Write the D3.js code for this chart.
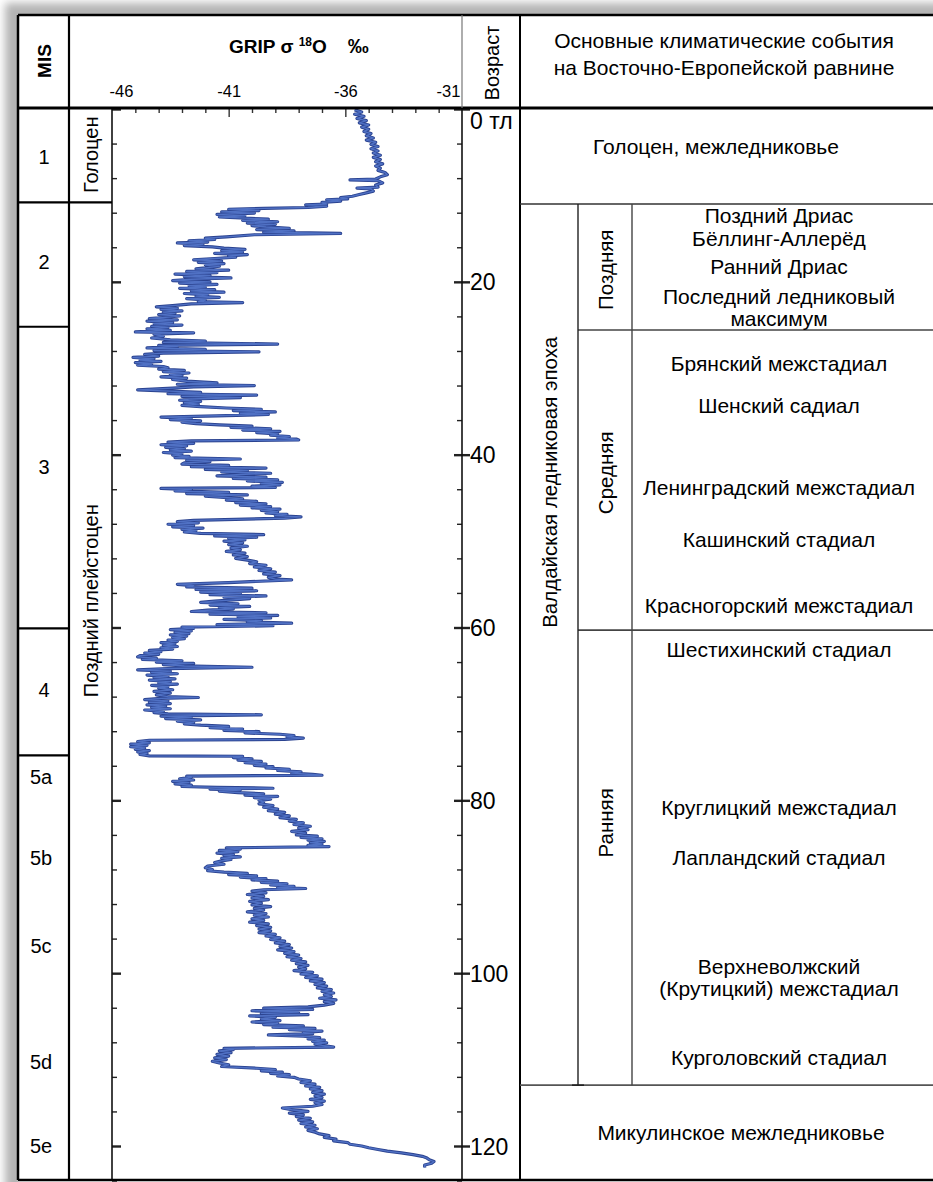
<!DOCTYPE html>
<html>
<head>
<meta charset="utf-8">
<script src="https://cdn.jsdelivr.net/npm/d3@7"></script>
<style>
  body { margin: 0; background: #fff; }
  svg { display: block; }
  text { font-family: "Liberation Sans", Arial, sans-serif; fill: #000; }
</style>
</head>
<body>
<svg id="chart" width="933" height="1182"></svg>
<script>
// GRIP δ18O record, [age ka, δ18O ‰]
const gripRecord = [
  [0.1,-35.6],[0.35,-35.3],[0.6,-35.6],[0.85,-35.2],[1.1,-35.5],[1.35,-35.1],[1.6,-35.4],[1.85,-35.0],[2.1,-35.3],[2.35,-35.0],
  [2.6,-35.2],[2.85,-34.9],[3.1,-35.1],[3.35,-34.8],[3.6,-35.1],[3.85,-34.7],[4.1,-34.9],[4.35,-34.6],[4.6,-34.9],[4.85,-34.6],
  [5.1,-34.8],[5.35,-34.5],[5.6,-34.8],[5.85,-34.5],[6.1,-34.7],[6.35,-34.4],[6.6,-34.7],[6.85,-34.5],[7.1,-34.6],[7.35,-34.3],
  [7.6,-34.2],[7.85,-34.5],[8.1,-34.7],[8.2,-35.8],[8.3,-34.6],[8.55,-34.4],[8.8,-34.7],[9.05,-34.6],[9.15,-35.5],[9.25,-34.9],
  [9.5,-34.8],[9.7,-35.1],[9.9,-35.4],[10.1,-35.7],[10.25,-36.2],[10.4,-35.9],[10.5,-36.8],[10.65,-36.2],[10.8,-37.0],[11.0,-36.8],
  [11.1,-37.7],[11.25,-36.8],[11.4,-37.6],[11.5,-39.5],
  [11.6,-41.0],[11.75,-39.7],[11.9,-41.3],[12.05,-39.9],[12.2,-41.5],[12.35,-40.3],[12.5,-41.4],[12.6,-40.5],
  [12.75,-39.3],[12.9,-40.4],[13.05,-38.9],[13.2,-40.2],[13.35,-39.0],[13.5,-40.0],[13.65,-39.4],
  [13.8,-38.4],[13.95,-39.8],[14.1,-38.2],[14.25,-39.5],[14.4,-36.2],[14.55,-39.9],[14.8,-41.1],
  [14.95,-42.0],[15.1,-41.6],[15.25,-42.7],[15.4,-41.9],[15.5,-43.2],[15.65,-42.1],[15.8,-42.9],[15.95,-41.7],
  [16.1,-41.2],[16.25,-40.3],[16.4,-41.3],[16.55,-40.4],[16.7,-41.6],[16.85,-40.2],[17.0,-41.0],[17.15,-40.7],
  [17.3,-41.6],[17.45,-42.5],[17.6,-41.3],[17.75,-42.3],[17.9,-41.2],[18.05,-42.0],[18.2,-41.4],[18.35,-41.9],
  [18.5,-42.4],[18.65,-41.0],[18.8,-42.8],[18.95,-41.5],[19.1,-43.3],[19.25,-41.8],[19.4,-42.9],[19.55,-40.9],[19.7,-42.6],[19.85,-43.4],
  [20.0,-41.8],[20.15,-43.1],[20.3,-41.5],[20.45,-42.7],[20.6,-42.0],
  [20.75,-43.1],[20.9,-41.6],[21.05,-42.6],[21.2,-41.2],[21.35,-42.9],[21.5,-41.9],[21.65,-42.4],[21.8,-41.4],[21.95,-42.8],[22.1,-42.0],
  [22.3,-42.3],[22.4,-40.4],[22.55,-42.6],
  [22.75,-43.4],[22.9,-44.1],[23.05,-43.2],[23.2,-43.9],[23.35,-43.0],[23.5,-43.8],[23.65,-43.3],[23.8,-44.0],[23.95,-43.1],[24.1,-43.7],
  [24.25,-44.4],[24.4,-43.2],[24.55,-44.5],[24.7,-43.4],[24.85,-44.2],[25.0,-43.0],[25.15,-44.3],[25.3,-43.6],[25.45,-44.5],[25.6,-43.5],
  [25.8,-45.0],[25.9,-42.5],[26.05,-44.2],[26.3,-43.8],[26.5,-44.3],
  [26.7,-43.5],[26.85,-42.0],[27.0,-43.8],[27.2,-38.9],[27.35,-44.0],[27.5,-43.2],[27.65,-44.5],[27.8,-42.0],[27.95,-44.2],[28.1,-39.7],
  [28.25,-43.8],[28.4,-44.6],
  [28.6,-44.0],[28.75,-45.1],[28.9,-44.2],[29.05,-44.8],[29.2,-43.9],[29.35,-45.0],[29.5,-44.3],[29.65,-44.9],[29.8,-43.8],
  [29.95,-43.6],[30.1,-44.0],[30.25,-42.9],[30.4,-43.8],[30.55,-42.7],[30.7,-43.5],[30.85,-43.0],[31.0,-43.9],[31.15,-42.8],[31.3,-43.4],
  [31.5,-42.8],[31.7,-41.5],[31.85,-43.2],[32.0,-39.9],[32.15,-42.5],[32.3,-43.4],[32.5,-44.9],[32.65,-43.5],
  [32.8,-42.2],[32.95,-43.6],[33.1,-39.8],[33.25,-43.0],[33.4,-40.5],[33.55,-42.6],
  [33.7,-43.1],[33.85,-42.2],[34.0,-42.9],[34.15,-42.3],[34.3,-43.0],[34.45,-42.2],
  [34.6,-41.1],[34.75,-39.6],[34.9,-40.8],[35.05,-39.0],[35.2,-40.5],[35.35,-39.3],[35.5,-41.5],
  [35.65,-43.9],[35.8,-42.6],[35.95,-43.5],[36.1,-42.2],[36.25,-43.0],[36.4,-42.4],
  [36.55,-41.4],[36.7,-40.0],[36.85,-40.9],[37.0,-39.2],[37.15,-40.4],[37.3,-38.8],[37.45,-39.8],
  [37.6,-38.9],[37.75,-39.2],[37.9,-38.4],[38.05,-38.9],[38.2,-38.1],[38.3,-38.0],[38.4,-42.6],
  [38.55,-43.6],[38.7,-42.5],[38.85,-43.9],[39.0,-42.8],[39.15,-43.7],[39.3,-42.9],[39.45,-43.5],[39.6,-42.6],[39.75,-43.8],[39.9,-43.0],
  [40.05,-43.4],[40.2,-42.7],
  [40.35,-43.3],[40.5,-40.5],[40.65,-42.8],[40.8,-41.8],[40.95,-42.9],
  [41.1,-43.0],[41.25,-41.0],[41.4,-42.6],[41.55,-39.4],[41.7,-42.0],[41.85,-40.2],[42.0,-41.3],[42.15,-39.2],
  [42.3,-40.5],[42.45,-41.5],[42.6,-39.4],[42.75,-40.8],[42.9,-38.9],[43.05,-40.2],[43.2,-38.7],[43.35,-39.6],[43.5,-38.8],[43.65,-40.0],
  [43.8,-39.0],[43.9,-43.9],
  [44.05,-42.6],[44.2,-43.3],[44.35,-41.0],[44.5,-42.8],[44.65,-40.2],[44.8,-42.0],[44.95,-41.2],
  [45.1,-40.4],[45.25,-41.1],[45.4,-39.8],[45.55,-40.7],[45.7,-39.4],[45.85,-40.5],[46.0,-39.2],[46.15,-40.0],[46.3,-38.8],[46.45,-39.6],
  [46.6,-38.9],[46.75,-39.4],[46.9,-38.5],[47.05,-39.0],[47.2,-37.9],[47.35,-38.6],[47.6,-42.5],
  [47.75,-43.2],[47.9,-42.3],[48.05,-43.6],[48.2,-42.5],[48.35,-43.4],[48.5,-42.1],[48.65,-43.0],[48.8,-42.4],[48.95,-42.9],
  [49.1,-42.2],[49.25,-39.5],[49.4,-41.6],[49.55,-39.8],[49.7,-41.0],[49.85,-40.3],
  [50.0,-41.2],[50.2,-40.4],[50.4,-41.0],[50.6,-40.2],[50.8,-40.9],[51.0,-40.5],[51.2,-41.1],[51.4,-40.3],[51.6,-40.8],[51.8,-40.2],
  [52.0,-40.7],[52.2,-40.2],
  [52.4,-39.8],[52.6,-40.1],[52.8,-39.4],[53.0,-39.9],[53.2,-39.2],[53.4,-39.7],[53.6,-39.0],[53.8,-39.5],[54.0,-38.8],[54.2,-39.3],
  [54.4,-39.0],[54.5,-38.3],[54.8,-41.0],[55.0,-43.2],[55.15,-42.5],
  [55.3,-42.8],[55.45,-40.0],[55.6,-42.4],[55.75,-39.8],[55.9,-42.2],[56.05,-40.5],[56.2,-41.8],[56.35,-39.4],[56.5,-41.2],[56.65,-40.1],
  [56.8,-40.8],
  [56.95,-41.6],[57.1,-42.2],[57.25,-40.6],[57.4,-41.8],[57.55,-40.1],[57.7,-41.4],[57.85,-40.8],[58.0,-41.9],
  [58.15,-42.6],[58.3,-39.4],[58.45,-41.8],[58.6,-38.9],[58.75,-40.6],[58.9,-39.2],[59.05,-41.2],[59.2,-39.6],
  [59.35,-40.2],[59.5,-38.3],[59.65,-41.5],[59.8,-39.1],[59.95,-43.0],
  [60.1,-42.5],[60.25,-43.5],[60.4,-42.6],[60.55,-43.3],[60.7,-42.7],[60.85,-43.5],[61.0,-42.8],[61.15,-43.4],[61.3,-42.9],[61.45,-43.6],
  [61.6,-43.2],[61.75,-43.9],[61.9,-43.3],[62.05,-43.8],[62.2,-43.2],[62.35,-43.9],[62.5,-43.4],
  [62.65,-44.4],[62.8,-43.9],[62.95,-44.6],[63.1,-44.0],[63.25,-44.8],[63.4,-44.9],[63.55,-44.1],[63.7,-44.7],
  [63.85,-43.0],[64.0,-44.1],[64.15,-42.5],[64.3,-43.8],[64.45,-42.9],[64.6,-40.0],[64.75,-43.6],[64.9,-44.9],
  [65.05,-43.5],[65.2,-44.3],[65.35,-43.2],[65.5,-44.5],[65.65,-43.6],[65.8,-44.2],[65.95,-43.3],[66.1,-44.4],[66.25,-43.5],[66.4,-44.0],
  [66.55,-43.2],[66.7,-44.3],[66.85,-43.6],
  [67.0,-44.0],[67.2,-43.4],[67.4,-44.2],[67.6,-43.5],[67.8,-44.1],[68.0,-43.6],[68.1,-42.3],[68.2,-43.9],
  [68.35,-44.6],[68.5,-43.6],[68.65,-44.4],[68.8,-43.5],[68.95,-44.5],[69.1,-43.7],[69.25,-44.3],[69.4,-43.5],[69.55,-44.6],[69.7,-43.8],
  [69.85,-44.2],[70.0,-43.6],[70.1,-39.6],[70.25,-43.9],
  [70.4,-42.6],[70.55,-43.7],[70.7,-42.2],[70.85,-43.2],[71.0,-42.5],[71.15,-42.9],
  [71.3,-42.2],[71.45,-41.0],[71.6,-41.8],[71.75,-40.4],[71.9,-41.2],[72.05,-39.7],[72.2,-40.3],
  [72.35,-38.8],[72.5,-38.2],[72.65,-38.5],[72.8,-37.8],[72.95,-38.6],[73.05,-44.4],
  [73.2,-44.9],[73.35,-44.4],[73.5,-45.2],[73.65,-44.5],[73.8,-45.2],[73.95,-44.6],[74.1,-45.0],[74.25,-44.4],[74.4,-44.9],[74.55,-44.5],
  [74.7,-44.8],[74.85,-44.4],[74.9,-40.4],
  [75.05,-40.8],[75.2,-40.0],[75.35,-40.6],[75.5,-39.6],[75.65,-40.3],[75.8,-39.4],[75.95,-39.9],[76.1,-39.1],
  [76.25,-39.4],[76.4,-38.4],[76.55,-38.9],[76.7,-37.9],[76.85,-38.3],[77.0,-37.4],[77.1,-37.0],[77.2,-42.8],
  [77.35,-42.6],[77.5,-43.1],[77.65,-42.5],[77.8,-43.4],[77.95,-42.7],[78.1,-43.3],[78.25,-42.6],[78.4,-43.0],
  [78.5,-41.5],[78.6,-39.1],[78.7,-41.8],[78.8,-40.5],[78.95,-41.4],
  [79.1,-40.6],[79.25,-39.5],[79.4,-40.3],[79.55,-38.9],[79.7,-39.9],[79.85,-39.2],[80.0,-39.7],
  [80.2,-39.5],[80.4,-39.7],[80.6,-39.1],[80.8,-39.5],[81.0,-38.9],[81.2,-39.3],[81.4,-38.6],[81.6,-39.0],[81.8,-38.4],[82.0,-38.8],
  [82.2,-38.1],
  [82.4,-38.4],[82.6,-37.8],[82.8,-38.2],[83.0,-37.5],[83.2,-38.0],[83.4,-37.6],[83.6,-38.3],[83.8,-37.7],
  [84.0,-38.1],[84.15,-37.2],[84.3,-37.9],[84.45,-37.0],[84.6,-37.6],[84.75,-36.9],[84.9,-37.5],[85.05,-37.0],[85.2,-37.6],[85.35,-36.7],
  [85.5,-41.1],
  [85.65,-40.5],[85.8,-41.4],[85.95,-40.6],[86.1,-41.5],[86.25,-40.8],[86.4,-41.2],[86.55,-40.5],[86.7,-41.3],[86.85,-40.9],
  [87.0,-41.3],[87.2,-41.6],[87.4,-41.2],[87.6,-41.9],[87.8,-42.0],[88.0,-41.7],[88.15,-41.9],
  [88.3,-41.2],[88.45,-40.2],[88.6,-41.0],[88.75,-39.8],[88.9,-40.5],[89.05,-39.4],[89.2,-40.0],[89.35,-38.9],[89.5,-39.6],[89.65,-38.5],
  [89.8,-39.2],[89.95,-38.2],[90.1,-38.9],[90.2,-37.7],[90.35,-39.5],
  [90.5,-40.0],[90.7,-39.4],[90.9,-40.2],[91.1,-39.5],[91.3,-40.0],[91.5,-39.3],[91.7,-40.1],[91.9,-39.6],[92.1,-40.0],[92.3,-39.2],
  [92.5,-39.9],[92.7,-39.5],[92.9,-40.2],[93.1,-39.4],[93.3,-39.9],[93.5,-39.3],[93.7,-40.0],[93.9,-39.5],[94.1,-40.1],[94.3,-39.3],
  [94.5,-39.8],[94.7,-39.2],[94.9,-39.7],
  [95.1,-39.2],[95.3,-39.7],[95.5,-39.0],[95.7,-39.4],[95.9,-38.8],[96.1,-39.2],[96.3,-38.6],[96.5,-39.0],[96.7,-38.4],[96.9,-38.8],
  [97.1,-38.3],[97.3,-38.9],[97.5,-38.2],[97.7,-38.6],[97.9,-38.0],[98.1,-38.5],[98.3,-37.9],[98.5,-38.3],[98.7,-37.7],[98.9,-38.1],
  [99.1,-37.6],[99.3,-38.0],[99.5,-37.7],
  [99.7,-38.2],[99.9,-37.4],[100.1,-37.9],[100.3,-37.2],[100.5,-37.7],[100.7,-37.0],[100.9,-37.5],[101.1,-36.9],[101.3,-37.3],[101.5,-36.8],
  [101.7,-37.2],[101.9,-36.6],[102.1,-37.0],[102.3,-36.5],[102.5,-36.9],[102.7,-36.6],[102.9,-37.1],[103.1,-36.4],[103.3,-36.9],[103.5,-36.5],
  [103.7,-36.9],
  [103.9,-37.6],[104.05,-39.5],[104.2,-37.4],[104.35,-40.0],[104.5,-38.0],[104.65,-39.6],[104.8,-37.6],[104.95,-40.1],[105.1,-39.0],[105.3,-39.6],
  [105.5,-38.8],[105.65,-40.0],
  [105.8,-38.9],[105.95,-39.5],[106.1,-37.8],[106.25,-39.1],[106.4,-37.3],[106.55,-38.4],[106.7,-37.0],[106.85,-37.8],[107.0,-37.4],[107.15,-39.3],
  [107.3,-37.8],[107.45,-37.1],[107.6,-37.6],[107.75,-36.9],[107.9,-37.4],[108.05,-36.8],[108.2,-37.3],[108.35,-37.0],[108.55,-36.5],[108.7,-41.2],
  [108.85,-40.8],[109.0,-41.4],[109.2,-40.9],[109.4,-41.5],[109.6,-41.0],[109.8,-41.6],[110.0,-41.1],[110.2,-41.7],[110.4,-41.4],[110.6,-41.0],
  [110.8,-41.3],
  [111.0,-39.8],[111.15,-39.0],[111.3,-39.6],[111.45,-38.7],[111.6,-39.2],[111.75,-38.4],[111.9,-38.9],[112.05,-38.2],
  [112.25,-38.0],[112.45,-37.5],[112.65,-37.9],[112.85,-37.3],[113.05,-37.7],[113.2,-37.1],
  [113.4,-37.5],[113.6,-37.0],[113.8,-37.4],[114.0,-36.9],[114.2,-37.3],[114.4,-37.0],[114.6,-37.5],[114.8,-36.9],[115.0,-37.3],[115.2,-37.0],
  [115.4,-37.4],[115.6,-38.7],
  [115.8,-38.3],[116.0,-37.6],[116.2,-38.4],[116.4,-37.8],[116.6,-38.1],[116.8,-37.5],[117.0,-38.0],[117.2,-37.4],[117.4,-37.9],[117.6,-37.3],
  [117.8,-37.7],[118.0,-37.2],[118.2,-37.6],[118.4,-37.3],
  [118.6,-37.1],[118.8,-36.7],[119.0,-36.9],[119.2,-36.4],[119.4,-36.5],[119.6,-35.9],
  [119.8,-35.8],[120.0,-35.3],[120.2,-35.0],[120.4,-34.6],[120.6,-34.2],[120.8,-33.6],[121.0,-33.1],[121.2,-32.7],[121.4,-32.5],
  [121.6,-32.4],[121.8,-32.2],[122.0,-32.3],[122.2,-32.6],[122.5,-32.6]
];

// Axis ticks
const d18OLabels = [-46, -41, -36, -31];
const d18OTicks = d3.range(-45, -31);
const ageLabels = [0, 20, 40, 60, 80, 100, 120];
const ageTicks = d3.range(0, 125, 4);

// Marine isotope stages: boundaries (ka) and label positions (ka)
const misBounds = [10.8, 25.2, 60.1, 74.8];
const misNames = ["1", "2", "3", "4", "5a", "5b", "5c", "5d", "5e"];
const misLabelAge = [5.5, 17.7, 41.4, 67.2, 77.3, 86.7, 96.9, 110.3, 120.0];

// Epochs
const epochNames = ["Голоцен", "Поздний плейстоцен"];
const epochLabelAge = [5.3, 56.9];
const epochBound = 10.8;

// Climatic events on the East European Plain
const valdaiBounds = [11.0, 112.96];
const valdaiName = "Валдайская ледниковая эпоха";
const valdaiLabelAge = 43.2;
const subNames = ["Поздняя", "Средняя", "Ранняя"];
const subBounds = [25.58, 60.3];
const subLabelAge = [18.6, 42.1, 82.6];
const interglacials = [
  { name: "Голоцен, межледниковье", age: 4.4 },
  { name: "Микулинское межледниковье", age: 118.5 }
];
const events = [
  { lines: ["Поздний Дриас"], age: 12.38 },
  { lines: ["Бёллинг-Аллерёд"], age: 15.05 },
  { lines: ["Ранний Дриас"], age: 18.29 },
  { lines: ["Последний ледниковый", "максимум"], age: 21.76 },
  { lines: ["Брянский межстадиал"], age: 29.51 },
  { lines: ["Шенский садиал"], age: 34.38 },
  { lines: ["Ленинградский межстадиал"], age: 43.87 },
  { lines: ["Кашинский стадиал"], age: 49.88 },
  { lines: ["Красногорский межстадиал"], age: 57.52 },
  { lines: ["Шестихинский стадиал"], age: 62.62 },
  { lines: ["Круглицкий межстадиал"], age: 80.79 },
  { lines: ["Лапландский стадиал"], age: 86.69 },
  { lines: ["Верхневолжский", "(Крутицкий) межстадиал"], age: 99.3 },
  { lines: ["Курголовский стадиал"], age: 109.72 }
];

const W = 933, H = 1182;
const F = { left: 18, top: 15, right: 933, bottom: 1180, head: 108 };
const C = { mis: 69, plotL: 112, plotR: 462, age: 520, valdai: 578, sub: 632 };
const TXT = 21;

const svg = d3.select("#chart");
const defs = svg.append("defs");
defs.append("filter").attr("id", "soft")
  .attr("x", "-10%").attr("y", "-10%").attr("width", "120%").attr("height", "120%")
  .append("feGaussianBlur").attr("stdDeviation", 4);

// page shadow behind the sheet
svg.append("rect").attr("width", W).attr("height", H).attr("fill", "#fff");
svg.append("rect").attr("x", 5).attr("y", 3).attr("width", W + 20).attr("height", H + 20)
  .attr("fill", "#b4b4b4").attr("filter", "url(#soft)");
svg.append("rect").attr("x", F.left).attr("y", F.top)
  .attr("width", W - F.left + 5).attr("height", H - F.top + 5).attr("fill", "#fff");

const x = d3.scaleLinear().domain([-46, -31]).range([C.plotL, C.plotR]);
const y = d3.scaleLinear().domain([0, 120]).range([109, 1146]);

const rule = (x1, y1, x2, y2, w, c) => svg.append("line")
  .attr("x1", x1).attr("y1", y1).attr("x2", x2).attr("y2", y2)
  .attr("stroke", c || "#000").attr("stroke-width", w || 1);

// ---- curve ----
const clip = defs.append("clipPath").attr("id", "plotClip");
clip.append("rect").attr("x", C.plotL).attr("y", F.head).attr("width", C.plotR - C.plotL).attr("height", F.bottom - F.head);

const line = d3.line().x(d => x(d[1])).y(d => y(d[0]));
const curve = svg.append("g").attr("clip-path", "url(#plotClip)");
curve.append("path").datum(gripRecord).attr("d", line)
  .attr("fill", "none").attr("stroke", "#2b4390").attr("stroke-width", 3.2).attr("stroke-linejoin", "round");
curve.append("path").datum(gripRecord).attr("d", line)
  .attr("fill", "none").attr("stroke", "#5071c4").attr("stroke-width", 1.4).attr("stroke-linejoin", "round");

// ---- axes ----
const topTicks = svg.append("g").attr("transform", `translate(0,${F.head})`)
  .call(d3.axisBottom(x).tickValues(d18OTicks).tickSize(5).tickFormat(""));
topTicks.select(".domain").remove();
topTicks.selectAll(".tick line").attr("stroke", "#333").attr("stroke-width", 1.4)
  .filter(d => d18OLabels.includes(d)).attr("y2", 9);

const topLabels = svg.append("g").attr("transform", `translate(0,97)`)
  .call(d3.axisTop(x).tickValues(d18OLabels).tickSize(0).tickPadding(0).tickFormat(d => String(d)));
topLabels.select(".domain").remove();
topLabels.selectAll("text").attr("font-size", 16.5).attr("fill", "#000")
  .attr("dx", d => d === -46 ? 9 : d === -31 ? -14 : 0);

const leftTicks = svg.append("g").attr("transform", `translate(${C.plotL},0)`)
  .call(d3.axisRight(y).tickValues(ageTicks).tickSize(5).tickFormat(""));
leftTicks.select(".domain").remove();
leftTicks.selectAll(".tick line").attr("stroke", "#222").attr("stroke-width", 1.4)
  .filter(d => ageLabels.includes(d)).attr("x2", 9).attr("stroke-width", 2.4);

const rightTicks = svg.append("g").attr("transform", `translate(${C.plotR},0)`)
  .call(d3.axisLeft(y).tickValues(ageTicks).tickSize(5).tickFormat(""));
rightTicks.select(".domain").remove();
rightTicks.selectAll(".tick line").attr("stroke", "#222").attr("stroke-width", 1.4)
  .filter(d => ageLabels.includes(d)).attr("x1", 8).attr("x2", -8).attr("stroke-width", 2.4);

const ageText = svg.append("g").attr("transform", `translate(${C.plotR},0)`)
  .call(d3.axisRight(y).tickValues(ageLabels).tickSize(0).tickPadding(8)
    .tickFormat(d => d === 0 ? "0 тл" : String(d)));
ageText.select(".domain").remove();
ageText.selectAll("text").attr("font-size", 23).attr("fill", "#000")
  .attr("dy", d => d === 0 ? "0.85em" : "0.35em");

rule(C.plotL, F.head, C.plotL, F.bottom, 1.6, "#111");
rule(C.plotR, F.head, C.plotR, F.bottom, 1.6, "#111");

// ---- table frame ----
rule(F.left, F.top, F.right, F.top, 2.5);
rule(F.left, F.top, F.left, F.bottom, 2.5);
rule(F.left, F.bottom, F.right, F.bottom, 2.5);
rule(F.left, F.head, F.right, F.head, 3);
rule(C.mis, F.top, C.mis, F.bottom, 2.2);
rule(C.plotR, F.top, C.plotR, F.head, 1.2, "#777");
rule(C.age, F.top, C.age, F.bottom, 2);

// MIS boundaries
misBounds.forEach(b => rule(F.left, y(b), b === epochBound ? C.plotL : C.mis, y(b), 2.2));

// right block rules
rule(C.age, y(valdaiBounds[0]), F.right, y(valdaiBounds[0]), 1.6, "#333");
rule(C.age, y(valdaiBounds[1]), F.right, y(valdaiBounds[1]), 1.6, "#555");
subBounds.forEach(b => rule(C.valdai, y(b), F.right, y(b), 1.6, "#444"));
rule(C.valdai, y(valdaiBounds[0]), C.valdai, y(valdaiBounds[1]), 1.4, "#222");
rule(C.sub, y(valdaiBounds[0]), C.sub, y(valdaiBounds[1]), 1.4, "#444");
rule(C.valdai - 6, y(valdaiBounds[1]), C.valdai + 6, y(valdaiBounds[1]), 1.6, "#222");

// ---- header texts ----
svg.append("text").attr("transform", `translate(51,61) rotate(-90)`)
  .attr("text-anchor", "middle").attr("font-size", 19).attr("font-weight", "bold").text("MIS");

const title = svg.append("text").attr("x", 229).attr("y", 53)
  .attr("font-size", 19).attr("font-weight", "bold");
title.append("tspan").text("GRIP σ ");
title.append("tspan").attr("font-size", 12).attr("dy", -7).text("18");
title.append("tspan").attr("dy", 7).text("O");
title.append("tspan").attr("dx", 21).attr("font-size", 21).text("‰");

svg.append("text").attr("transform", `translate(499,63) rotate(-90)`)
  .attr("text-anchor", "middle").attr("font-size", 20).text("Возраст");

svg.append("text").attr("x", 724).attr("y", 48).attr("text-anchor", "middle").attr("font-size", TXT)
  .text("Основные климатические события");
svg.append("text").attr("x", 724).attr("y", 75).attr("text-anchor", "middle").attr("font-size", TXT)
  .text("на Восточно-Европейской равнине");

// ---- MIS column ----
svg.append("g").selectAll("text").data(misNames).join("text")
  .attr("x", (d, i) => i < 4 ? 44 : 41).attr("y", (d, i) => y(misLabelAge[i]))
  .attr("dy", "0.35em").attr("text-anchor", "middle").attr("font-size", 20).text(d => d);

// ---- epoch column ----
svg.append("g").selectAll("text").data(epochNames).join("text")
  .attr("transform", (d, i) => `translate(98,${y(epochLabelAge[i])}) rotate(-90)`)
  .attr("text-anchor", "middle").attr("font-size", 20).attr("fill", "#141a33").text(d => d);

// ---- right block ----
svg.append("text").attr("transform", `translate(557,${y(valdaiLabelAge)}) rotate(-90)`)
  .attr("text-anchor", "middle").attr("font-size", 20.5).text(valdaiName);
svg.append("g").selectAll("text").data(subNames).join("text")
  .attr("transform", (d, i) => `translate(613,${y(subLabelAge[i])}) rotate(-90)`)
  .attr("text-anchor", "middle").attr("font-size", 20.5).text(d => d);

// interglacial rows span the whole block; the first sits left of centre, the second right
svg.append("g").selectAll("text").data(interglacials).join("text")
  .attr("x", (d, i) => i === 0 ? 716 : 741).attr("y", d => y(d.age)).attr("dy", "0.35em")
  .attr("text-anchor", "middle").attr("font-size", TXT).text(d => d.name);

const ev = svg.append("g").selectAll("text").data(events).join("text")
  .attr("text-anchor", "middle").attr("font-size", TXT)
  .attr("y", d => y(d.age));
ev.selectAll("tspan").data(d => d.lines.map((t, k) => ({ t, k }))).join("tspan")
  .attr("x", 779).attr("dy", d => d.k === 0 ? "0.35em" : "1.02em").text(d => d.t);
</script>
</body>
</html>
